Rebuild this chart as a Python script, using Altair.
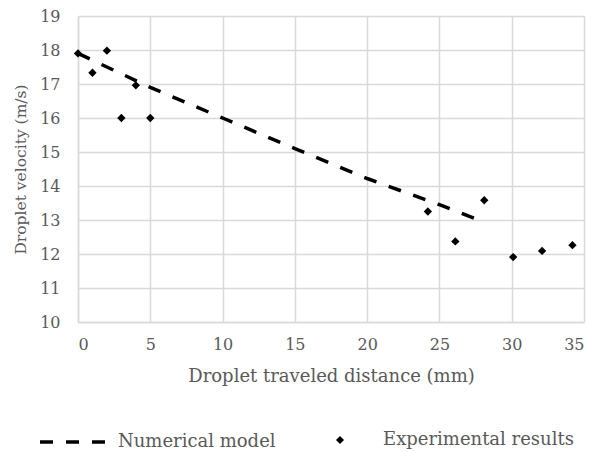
import altair as alt
import pandas as pd

# Numerical model (dashed line)
model_x = [0, 5, 10, 15, 20, 25, 27.7]
model_y = [17.9, 16.9, 16.0, 15.1, 14.22, 13.45, 13.0]

# Experimental results (diamonds)
exp_x = [0, 1, 2, 3, 4, 5, 24.2, 26.1, 28.1, 30.1, 32.1, 34.2]
exp_y = [17.9, 17.33, 17.98, 16.0, 16.96, 16.0, 13.25, 12.37, 13.58, 11.91, 12.09, 12.26]

x_ticks = [0, 5, 10, 15, 20, 25, 30, 35]
y_ticks = [10, 11, 12, 13, 14, 15, 16, 17, 18, 19]

model_df = pd.DataFrame({"x": model_x, "y": model_y, "series": "Numerical model"})
exp_df = pd.DataFrame({"x": exp_x, "y": exp_y, "series": "Experimental results"})

FONT = "DejaVu Serif"
TXT = "#595959"
GRID = "#d9d9d9"

x_enc = alt.X("x:Q", scale=alt.Scale(domain=[0, 35], nice=False),
              axis=alt.Axis(values=x_ticks, title="Droplet traveled distance (mm)",
                            titleFontSize=18, labelPadding=14, titlePadding=15))
y_enc = alt.Y("y:Q", scale=alt.Scale(domain=[10, 19], nice=False, zero=False),
              axis=alt.Axis(values=y_ticks, title="Droplet velocity (m/s)",
                            titleFontSize=15.5, labelPadding=18, titlePadding=11))

line = alt.Chart(model_df).mark_line(
    color="black", strokeWidth=3.5, strokeCap="butt"
).encode(
    x=x_enc, y=y_enc,
    strokeDash=alt.StrokeDash(
        "series:N",
        scale=alt.Scale(domain=["Numerical model"], range=[[13, 13]]),
        legend=alt.Legend(
            title=None, orient="none", legendX=-40, legendY=389,
            symbolType="stroke", symbolSize=4900, symbolStrokeWidth=3.5,
            symbolStrokeColor="black", symbolDash=[15, 12],
            labelOffset=6, labelFont=FONT, labelFontSize=18, labelColor=TXT,
            labelLimit=400, padding=0,
        ),
    ),
)

points = alt.Chart(exp_df).mark_point(
    filled=True, color="black", size=70, opacity=1
).encode(
    x=x_enc, y=y_enc,
    shape=alt.Shape(
        "series:N",
        scale=alt.Scale(domain=["Experimental results"], range=["diamond"]),
        legend=alt.Legend(
            title=None, orient="none", legendX=253, legendY=415,
            symbolSize=64, symbolFillColor="black", symbolStrokeColor="black",
            symbolOpacity=1,
            labelOffset=34, labelFont=FONT, labelFontSize=18, labelColor=TXT,
            labelLimit=400, padding=0,
        ),
    ),
)

chart = alt.layer(line, points).properties(
    width=506, height=306,
    autosize=alt.AutoSizeParams(type="none"),
    padding={"left": 70, "top": 8, "right": 4, "bottom": 136},
).configure_view(
    stroke=None
).configure_axis(
    grid=True, gridColor=GRID, gridWidth=1.5,
    domainColor=GRID, domainWidth=1.5,
    ticks=False,
    labelFont=FONT, labelFontSize=16, labelColor=TXT,
    titleFont=FONT, titleColor=TXT, titleFontWeight="normal",
)

chart.save("out.html", embed_options={"renderer": "svg", "actions": False})
